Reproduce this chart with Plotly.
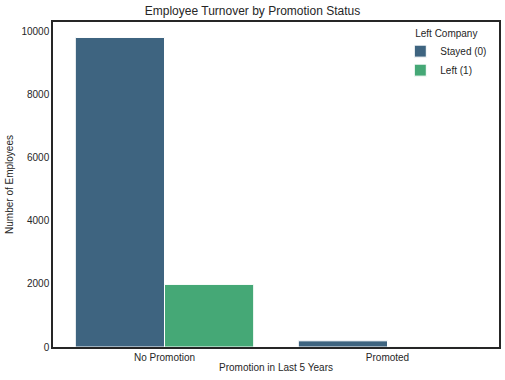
import plotly.graph_objects as go

categories = ["No Promotion", "Promoted"]
stayed = [9805, 195]
left = [1983, 8]
series_names = ["Stayed (0)", "Left (1)"]
colors = ["#3E6480", "#45A876"]

fig = go.Figure()
for name, vals, col in zip(series_names, [stayed, left], colors):
    fig.add_trace(go.Bar(
        x=categories, y=vals, name=name,
        marker=dict(color=col, line=dict(color="white", width=1)),
    ))

fig.update_layout(
    width=505, height=380,
    margin=dict(l=53, r=6, t=22, b=33, autoexpand=False),
    paper_bgcolor="white", plot_bgcolor="white",
    font=dict(family="Liberation Sans, Arial, sans-serif", size=10, color="#262626"),
    title=dict(text="Employee Turnover by Promotion Status", x=0.5, xanchor="center",
               y=0.971, yanchor="middle", font=dict(size=12)),
    barmode="group", bargap=0.2, bargroupgap=0,
    legend=dict(title=dict(text="Left Company", side="top center", font=dict(size=10)),
                x=0.985, xanchor="right", y=0.995, yanchor="top",
                bgcolor="rgba(0,0,0,0)", font=dict(size=10), tracegroupgap=0,
                itemwidth=30),
    showlegend=True,
)
fig.update_xaxes(
    title=dict(text="Promotion in Last 5 Years", standoff=2, font=dict(size=10)),
    showline=True, mirror="all", linecolor="#262626", linewidth=1.5, automargin=False,
    showgrid=False, ticks="", range=[-0.5, 1.5], fixedrange=True,
)
fig.update_yaxes(
    title=dict(text="Number of Employees", standoff=6, font=dict(size=10)),
    showline=True, mirror="all", linecolor="#262626", linewidth=1.5, automargin=False,
    showgrid=False, ticks="", range=[0, 10295], tickformat="d",
    tickvals=[0, 2000, 4000, 6000, 8000, 10000], zeroline=False, fixedrange=True,
)

fig.write_html("out.html", config={"displayModeBar": False},
               post_script="document.body.style.margin='0';document.body.style.overflow='hidden';")
